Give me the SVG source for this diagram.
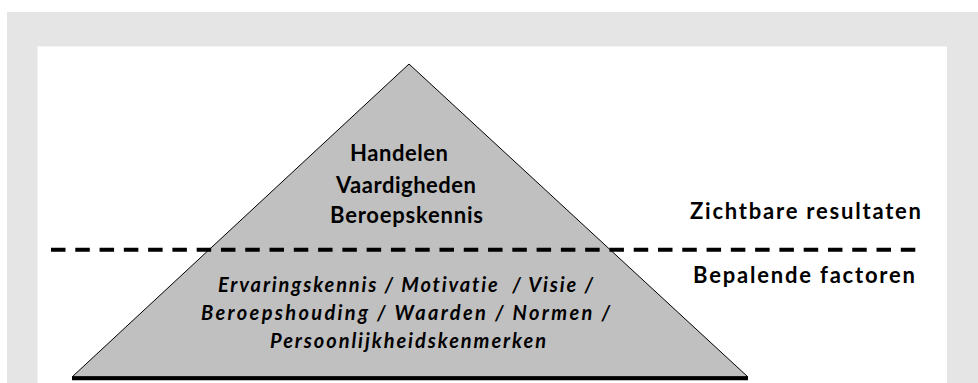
<svg xmlns="http://www.w3.org/2000/svg" width="978" height="383" viewBox="0 0 978 383">
<style>
.t{font-family:Lato,"Open Sans","Liberation Sans",sans-serif;font-weight:bold;fill:#000;font-variant-ligatures:none;font-feature-settings:"liga" 0,"dlig" 0}
.b{font-size:22px}
.i{font-size:20px;font-style:italic}
.pre{white-space:pre}
</style>
<rect x="0" y="0" width="978" height="383" fill="#ffffff"/>
<rect x="7" y="12" width="971" height="371" fill="#e5e5e5"/>
<rect x="37.5" y="46.5" width="909.5" height="336.5" fill="#ffffff"/>
<g id="pyramid">
<polygon points="409,64 72,377 748,377" fill="#c0c0c0" stroke="#000" stroke-width="1"/>
<line x1="72" y1="378.3" x2="748" y2="378.3" stroke="#000" stroke-width="4"/>
</g>
<g id="connectors">
<line x1="51" y1="249.7" x2="916" y2="249.7" stroke="#000" stroke-width="4" stroke-dasharray="14.5 9.78"/>
</g>
<g id="top-text">
<text class="t b" x="350" y="160.7" textLength="98" lengthAdjust="spacing">Handelen</text>
<text class="t b" x="336" y="192.7" textLength="140" lengthAdjust="spacing">Vaardigheden</text>
<text class="t b" x="330" y="223" textLength="153" lengthAdjust="spacing">Beroepskennis</text>
</g>
<g id="bottom-text">
<text class="t i pre" x="218" y="291.7" textLength="375" lengthAdjust="spacing">Ervaringskennis / Motivatie  / Visie /</text>
<text class="t i" x="201" y="320" textLength="409" lengthAdjust="spacing">Beroepshouding / Waarden / Normen /</text>
<text class="t i" x="270" y="347.7" textLength="276" lengthAdjust="spacing">Persoonlijkheidskenmerken</text>
</g>
<g id="labels">
<text class="t b" x="690" y="219" textLength="231" lengthAdjust="spacing">Zichtbare resultaten</text>
<text class="t b" x="693" y="283" textLength="222" lengthAdjust="spacing">Bepalende factoren</text>
</g>
</svg>
